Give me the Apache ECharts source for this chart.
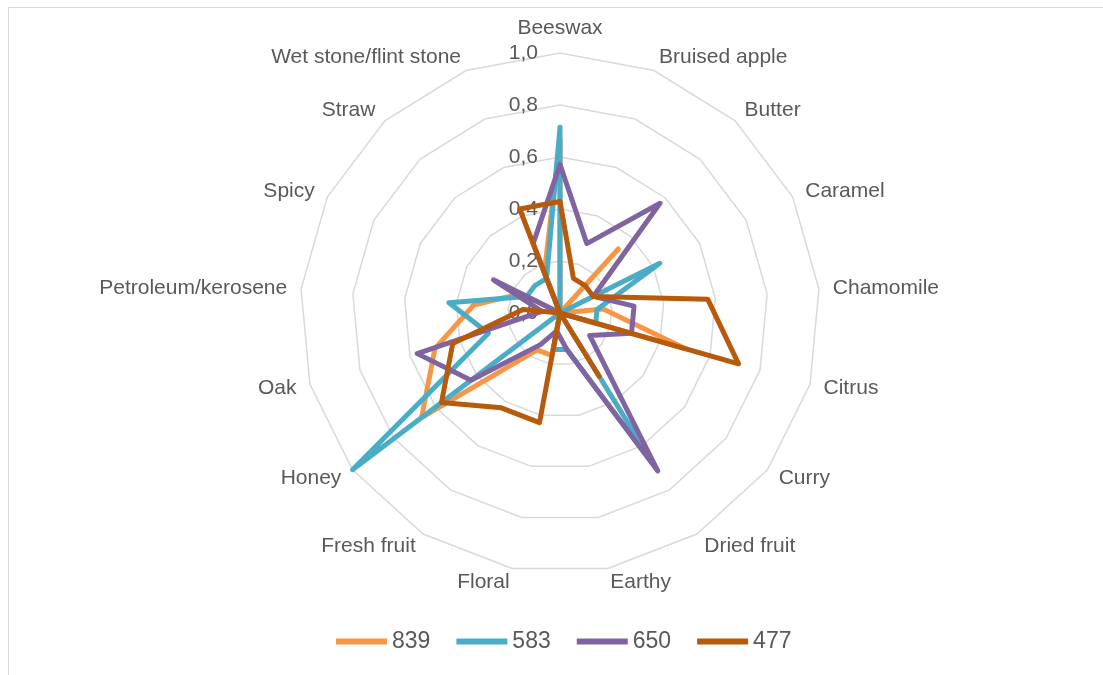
<!DOCTYPE html>
<html>
<head>
<meta charset="utf-8">
<script src="https://cdn.jsdelivr.net/npm/echarts@6/dist/echarts.min.js"></script>
<style>
    html, body { margin: 0; padding: 0; background: #fff; }
    #frame {
        position: absolute; left: 8px; top: 7px; width: 1200px; height: 800px;
        border-left: 1.5px solid #d9d9d9; border-top: 1.5px solid #d9d9d9;
    }
    #radarChart { position: absolute; left: 0; top: 0; width: 1103px; height: 675px; }
</style>
</head>
<body>
<div id="frame"></div>
<div id="radarChart"></div>
<script>
    // 感官属性（顺时针，从顶部开始）
    const categories = ['Beeswax', 'Bruised apple', 'Butter', 'Caramel', 'Chamomile', 'Citrus', 'Curry',
        'Dried fruit', 'Earthy', 'Floral', 'Fresh fruit', 'Honey', 'Oak', 'Petroleum/kerosene',
        'Spicy', 'Straw', 'Wet stone/flint stone'];

    // 各样品得分
    const s839 = [0.667, 0, 0.333, 0, 0.167, 0.5, 0, 0, 0, 0.167, 0.167, 0.667, 0.5, 0.333, 0.167, 0, 0.167];
    const s583 = [0.714, 0, 0, 0.429, 0.143, 0.143, 0, 0.714, 0.143, 0.143, 0, 1.0, 0.286, 0.429, 0.143, 0.143, 0.143];
    const s650 = [0.571, 0.286, 0.571, 0.143, 0.286, 0.286, 0.143, 0.714, 0.143, 0.07, 0.143, 0.429, 0.571, 0.07, 0.286, 0, 0.286];
    const s477 = [0.429, 0.143, 0.143, 0.143, 0.571, 0.714, 0, 0.286, 0, 0.429, 0.429, 0.571, 0.429, 0.143, 0, 0, 0.429];

    const seriesNames = ['839', '583', '650', '477'];
    const seriesData = [s839, s583, s650, s477];
    const colors = ['#F79646', '#4BACC6', '#8064A2', '#B75A0B'];

    const textColor = '#595959';
    const font = '"Liberation Sans", Arial, sans-serif';

    // echarts雷达图是逆时针排列，这里把顺序倒过来变成顺时针
    let order = [0];
    for (let i = categories.length - 1; i > 0; i--) {
        order.push(i);
    }

    let chart = echarts.init(document.getElementById('radarChart'));

    // 只在第一个轴（Beeswax）上显示刻度值
    let indicator = order.map(function (k, i) {
        let ind = { name: categories[k], min: 0, max: 1 };
        if (i === 0) {
            ind.axisLabel = {
                show: true,
                color: textColor,
                fontSize: 21,
                fontFamily: font,
                margin: 22,
                formatter: function (v) {
                    return v.toFixed(1).replace('.', ',');
                }
            };
        }
        return ind;
    });

    let option = {
        animation: false,
        color: colors,
        legend: {
            data: seriesNames,
            left: 331,
            top: 625,
            itemWidth: 51,
            itemHeight: 6,
            itemGap: 26,
            icon: 'rect',
            textStyle: { color: textColor, fontSize: 23, fontFamily: font }
        },
        radar: {
            center: [560, 313],
            radius: 260,
            startAngle: 90,
            shape: 'polygon',
            splitNumber: 5,
            indicator: indicator,
            axisName: { color: textColor, fontSize: 21, fontFamily: font },
            nameGap: 14,
            axisLine: { show: false },
            axisTick: { show: false },
            axisLabel: { show: false },
            splitLine: { lineStyle: { color: '#d9d9d9', width: 1.5 } },
            splitArea: { show: false }
        },
        series: [{
            type: 'radar',
            symbol: 'none',
            data: seriesData.map(function (vals, i) {
                return {
                    name: seriesNames[i],
                    value: order.map(function (k) { return vals[k]; }),
                    lineStyle: { color: colors[i], width: 5, join: 'round', cap: 'round' },
                    itemStyle: { color: colors[i] }
                };
            })
        }]
    };
    chart.setOption(option);
</script>
</body>
</html>
